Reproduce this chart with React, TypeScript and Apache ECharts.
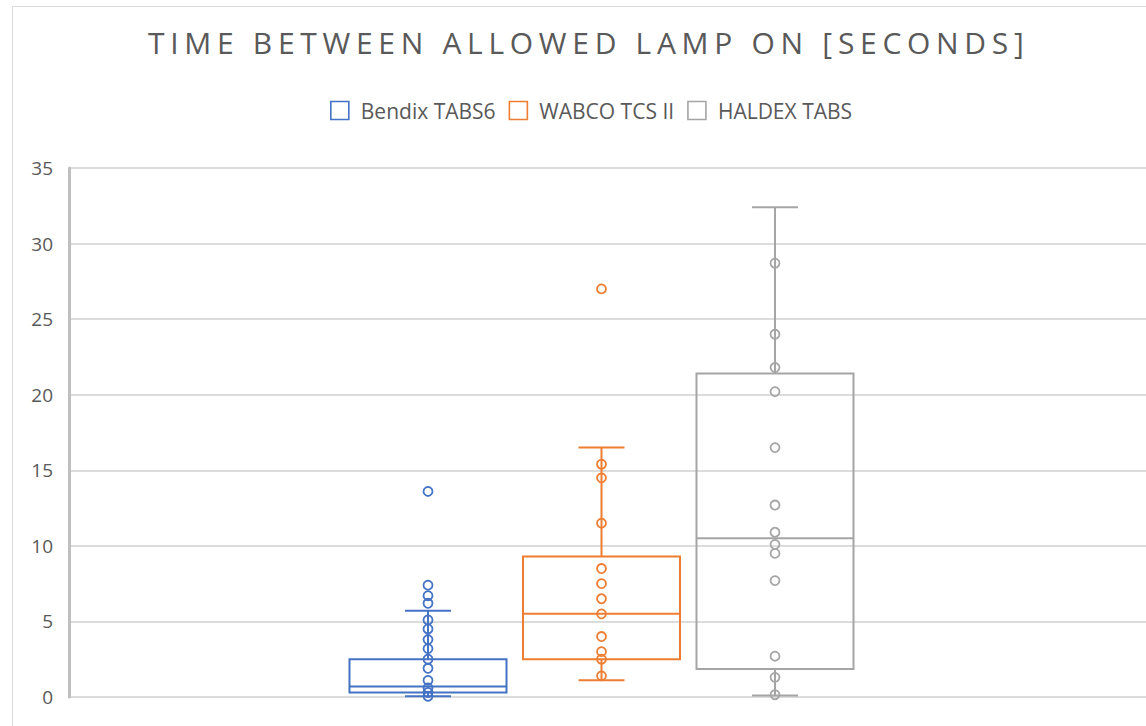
import React, { useEffect, useRef } from 'react';
import * as echarts from 'echarts';

const TITLE = 'TIME BETWEEN ALLOWED LAMP ON [SECONDS]';
const categories = ['Bendix TABS6', 'WABCO TCS II', 'HALDEX TABS'];
const colors = ['#4472C4', '#ED7D31', '#A5A5A5'];

// [lower whisker, Q1, median, Q3, upper whisker]
const bendixBox = [0.05, 0.3, 0.7, 2.5, 5.7];
const wabcoBox = [1.1, 2.5, 5.5, 9.3, 16.5];
const haldexBox = [0.1, 1.85, 10.5, 21.4, 32.4];

const bendixPoints = [13.6, 7.4, 6.7, 6.2, 5.1, 4.5, 3.8, 3.2, 2.5, 1.9, 1.1, 0.6, 0.3, 0.05];
const wabcoPoints = [27.0, 15.4, 14.5, 11.5, 8.5, 7.5, 6.5, 5.5, 4.0, 3.0, 2.5, 1.4];
const haldexPoints = [28.7, 24.0, 21.8, 20.2, 16.5, 12.7, 10.9, 10.1, 9.5, 7.7, 2.7, 1.3, 0.15];

const yMin = 0;
const yMax = 35;
const yStep = 5;

const boxes = [bendixBox, wabcoBox, haldexBox];
const points = [bendixPoints, wabcoPoints, haldexPoints];

const FONT = '"Open Sans", "Liberation Sans", sans-serif';
const TEXT_COLOR = '#595959';

function makeRenderer(color: string) {
  return (params: any, api: any) => {
    const x = api.value(0);
    const ys = [1, 2, 3, 4, 5].map((i) => api.coord([x, api.value(i)]));
    const cx = ys[0][0];
    const band = api.size([1, 0])[0];
    const bw = band * 0.905;
    const cw = band * 0.265;
    const [pMin, pQ1, pMed, pQ3, pMax] = ys.map((p: number[]) => p[1]);
    const style = { fill: 'none', stroke: color, lineWidth: 2 };
    return {
      type: 'group',
      children: [
        { type: 'rect', shape: { x: cx - bw / 2, y: pQ3, width: bw, height: pQ1 - pQ3 }, style },
        { type: 'line', shape: { x1: cx - bw / 2, y1: pMed, x2: cx + bw / 2, y2: pMed }, style },
        { type: 'line', shape: { x1: cx, y1: pQ3, x2: cx, y2: pMax }, style },
        { type: 'line', shape: { x1: cx, y1: pQ1, x2: cx, y2: pMin }, style },
        { type: 'line', shape: { x1: cx - cw / 2, y1: pMax, x2: cx + cw / 2, y2: pMax }, style },
        { type: 'line', shape: { x1: cx - cw / 2, y1: pMin, x2: cx + cw / 2, y2: pMin }, style },
      ],
    };
  };
}

export default function App() {
  const ref = useRef<HTMLDivElement>(null);

  useEffect(() => {
    if (!ref.current) return;
    const chart = echarts.init(ref.current, undefined, { renderer: 'svg' });

    const boxSeries = categories.map((name, i) => ({
      name,
      type: 'custom',
      xAxisIndex: 1,
      yAxisIndex: 1,
      renderItem: makeRenderer(colors[i]),
      encode: { x: 0, y: [1, 2, 3, 4, 5] },
      data: [[name, ...boxes[i]]],
      z: 2,
    }));

    const pointSeries = categories.map((name, i) => ({
      name,
      type: 'scatter',
      xAxisIndex: 1,
      yAxisIndex: 1,
      symbol: 'circle',
      symbolSize: 9,
      itemStyle: { color: 'rgba(255,255,255,0)', borderColor: colors[i], borderWidth: 1.8, opacity: 1 },
      data: points[i].map((v) => [name, v]),
      z: 3,
    }));

    chart.setOption({
      animation: false,
      backgroundColor: '#ffffff',
      title: {
        text: TITLE,
        left: 148,
        top: 27,
        padding: 0,
        textStyle: { fontFamily: FONT, fontSize: 30, fontWeight: 'normal', color: TEXT_COLOR },
      },
      legend: {
        left: 325,
        top: 95,
        itemWidth: 18,
        itemHeight: 18,
        itemGap: 13,
        textStyle: { fontFamily: FONT, fontSize: 21, color: TEXT_COLOR, padding: [0, 0, 0, 7] },
        data: categories.map((name, i) => ({
          name,
          icon: 'rect',
          itemStyle: { color: 'rgba(255,255,255,0)', borderColor: colors[i], borderWidth: 1.6 },
        })),
      },
      graphic: [
        {
          type: 'rect',
          shape: { x: 12.5, y: 6.5, width: 1400, height: 900 },
          style: { fill: 'none', stroke: '#D9D9D9', lineWidth: 1 },
          silent: true,
          z: -1,
        },
      ],
      grid: [
        { left: 69, right: 0, top: 168, bottom: 29 },
        { left: 341.25, right: 284.25, top: 168, bottom: 29 },
      ],
      xAxis: [
        { type: 'category', gridIndex: 0, data: [''], show: false },
        { type: 'category', gridIndex: 1, data: categories, show: false },
      ],
      yAxis: [
        {
          type: 'value',
          gridIndex: 0,
          min: yMin,
          max: yMax,
          interval: yStep,
          axisLine: { show: true, lineStyle: { color: '#BFBFBF', width: 3 } },
          axisTick: { show: false },
          axisLabel: { fontFamily: FONT, fontSize: 19, color: TEXT_COLOR, margin: 16 },
          splitLine: { show: true, lineStyle: { color: '#D0D0D0', width: 1.5 } },
        },
        { type: 'value', gridIndex: 1, min: yMin, max: yMax, interval: yStep, show: false },
      ],
      series: [...boxSeries, ...pointSeries],
    });

    const texts = ref.current.querySelectorAll('text');
    texts.forEach((t) => {
      if (t.textContent === TITLE) {
        t.setAttribute('letter-spacing', '5.7');
      }
    });

    return () => chart.dispose();
  }, []);

  return (
    <div
      ref={ref}
      style={{ position: 'fixed', left: 0, top: 0, width: 1146, height: 726 }}
    />
  );
}
